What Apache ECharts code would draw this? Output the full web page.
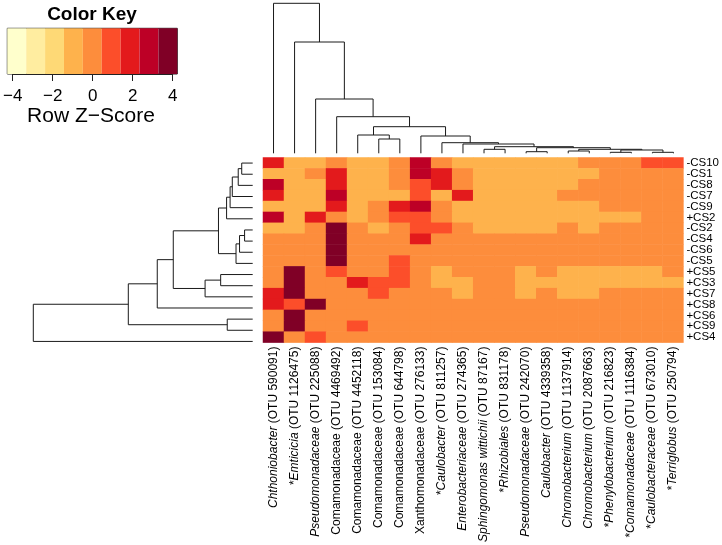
<!DOCTYPE html>
<html><head><meta charset="utf-8">
<script src="https://cdn.jsdelivr.net/npm/echarts@6/dist/echarts.min.js"></script>
<style>html,body{margin:0;padding:0;background:#fff}#c{width:722px;height:545px}</style>
</head><body><div id="c"></div>
<script>
// ---------------- data ----------------
const rowLabels = ['-CS10','-CS1','-CS8','-CS7','-CS9','+CS2','-CS2','-CS4','-CS6','-CS5','+CS5','+CS3','+CS7','+CS8','+CS6','+CS9','+CS4'];
const colStar   = [0,1,0,0,0,0,0,0,1,0,0,1,0,0,0,0,1,1,1,1];
const colTaxon  = ['Chthoniobacter','Emticicia','Pseudomonadaceae','Comamonadaceae','Comamonadaceae','Comamonadaceae','Comamonadaceae','Xanthomonadaceae','Caulobacter','Enterobacteriaceae','Sphingomonas wittichii','Rhizobiales','Pseudomonadaceae','Caulobacter','Chromobacterium','Chromobacterium','Phenylobacterium','Comamonadaceae','Caulobacteraceae','Terriglobus'];
const colItalic = [1,1,1,0,0,0,0,0,1,1,1,1,1,1,1,1,1,1,1,1];
const colOtu    = ['590091','1126475','225088','4469492','4452118','153084','644798','276133','811257','274365','87167','831178','242070','4339358','1137914','2087663','216823','1116384','673010','250794'];

// Row Z-scores (rows top to bottom, columns left to right)
const zRows = [
  [1.9,-0.9,-0.9,0,-0.9,-0.9,0,2.8,0,-0.9,-0.9,-0.9,-0.9,-0.9,-0.9,0,0,0,1.0,1.0],
  [-0.9,-0.9,0,1.9,-0.9,-0.9,0,2.8,1.9,0,-0.9,-0.9,-0.9,-0.9,-0.9,-0.9,0,0,0,0],
  [2.8,-0.9,-0.9,1.9,-0.9,-0.9,0,1.0,1.9,0,-0.9,-0.9,-0.9,-0.9,-0.9,0,0,0,0,0],
  [1.9,-0.9,-0.9,2.8,-0.9,-0.9,-0.9,1.0,-0.9,1.9,-0.9,-0.9,-0.9,-0.9,0,0,0,0,0,0],
  [-0.9,-0.9,-0.9,1.9,-0.9,0,1.9,2.8,0,-0.9,-0.9,-0.9,-0.9,-0.9,-0.9,-0.9,0,0,0,0],
  [2.8,-0.9,1.9,0,-0.9,0,1.0,1.0,0,-0.9,-0.9,-0.9,-0.9,-0.9,-0.9,-0.9,-0.9,-0.9,0,0],
  [-0.9,-0.9,0,3.8,0,-0.9,0,1.0,1.0,0,-0.9,-0.9,-0.9,-0.9,0,-0.9,0,0,0,0],
  [0,0,0,3.8,0,0,0,1.9,0,0,0,0,0,0,0,0,0,0,0,0],
  [0,0,0,3.8,0,0,0,0,0,0,0,0,0,0,0,0,0,0,0,0],
  [0,0,0,3.8,0,0,1.0,0,0,0,0,0,0,0,0,0,0,0,0,0],
  [0,3.8,0,1.0,0,0,1.0,0,-0.9,0,0,0,-0.9,0,-0.9,-0.9,-0.9,-0.9,-0.9,0],
  [0,3.8,0,0,1.9,1.0,1.0,0,-0.9,-0.9,0,0,-0.9,-0.9,-0.9,-0.9,-0.9,-0.9,-0.9,-0.9],
  [1.9,3.8,0,0,0,1.0,0,0,0,-0.9,0,0,-0.9,0,-0.9,-0.9,0,0,0,0],
  [1.9,1.0,3.8,0,0,0,0,0,0,0,0,0,0,0,0,0,0,0,0,0],
  [0,3.8,0,0,0,0,0,0,0,0,0,0,0,0,0,0,0,0,0,0],
  [0,3.8,0,0,1.0,0,0,0,0,0,0,0,0,0,0,0,0,0,0,0],
  [3.8,0,1.0,0,0,0,0,0,0,0,0,0,0,0,0,0,0,0,0,0]
];

// Colour key
const keyColors = ['#FFFFCC','#FFEDA0','#FED976','#FEB24C','#FD8D3C','#FC4E2A','#E31A1C','#BD0026','#800026'];
const keyMin = -4.23, keyMax = 4.23;
const keyTicks = [-4, -2, 0, 2, 4];

// Dendrograms as hclust-style merges: [a, b, height]; negative = leaf (display order), positive = earlier merge
const colMerge = [
  [-6,-7,14.3],[-5,1,18.3],[-17,-18,1.0],[-19,-20,1.0],[3,4,3.3],[-15,-16,2.3],[6,5,4.0],
  [-13,-14,1.6],[8,7,5.6],[-11,-12,4.0],[10,9,6.6],[-10,11,9.3],[-9,12,10.6],[-8,13,17.3],
  [2,14,26.6],[-4,15,36.6],[-3,16,54.3],[-2,17,111.3],[-1,18,150]
];
const rowMerge = [
  [-1,-2,0.50],[1,-3,0.66],[2,-4,0.93],[3,-5,1.03],[4,-6,1.19],[-7,-8,0.37],[6,-9,0.60],
  [7,-10,0.76],[5,8,1.56],[-11,-12,1.46],[10,-13,2.17],[9,11,3.62],[12,-14,4.35],
  [-15,-16,1.16],[13,14,5.67],[15,-17,10]
];

// ---------------- build ----------------
const FONT = '"Liberation Sans", Arial, Helvetica, sans-serif';
function dendroSegments(merges) {
  const pos = [], hgt = [];
  const get = (id) => id < 0 ? [(-id) - 0.5, 0] : [pos[id - 1], hgt[id - 1]];
  const segs = [];
  merges.forEach((m, k) => {
    const a = get(m[0]), b = get(m[1]);
    pos[k] = (a[0] + b[0]) / 2; hgt[k] = m[2];
    segs.push([a[0], a[1], b[0], b[1], m[2]]);
  });
  return segs;
}
function dendroRender(swap) {
  return function (params, api) {
    const xa = api.value(0), ha = api.value(1), xb = api.value(2), hb = api.value(3), h = api.value(4);
    const P = (p, q) => swap ? api.coord([q, p]) : api.coord([p, q]);
    return { type: 'polyline', shape: { points: [P(xa, ha), P(xa, h), P(xb, h), P(xb, hb)] },
      style: { stroke: '#1a1a1a', lineWidth: 1, fill: null } };
  };
}
const heatData = [];
zRows.forEach((r, ri) => r.forEach((v, ci) => heatData.push([ci, ri, v])));
const step = (keyMax - keyMin) / keyColors.length;
const pieces = keyColors.map((c, k) => ({ gte: keyMin + k * step, lt: keyMin + (k + 1) * step + (k === keyColors.length - 1 ? 1 : 0), color: c }));
const keyData = keyColors.map((c, k) => [keyMin + k * step, keyMin + (k + 1) * step, k]);

const HM = { left: 263, top: 157.5, width: 421, height: 189.5 };
const hidden = { show: false };
const LBL = 12;
const option = {
  animation: false,
  backgroundColor: '#fff',
  grid: [
    { left: HM.left, top: HM.top, width: HM.width, height: HM.height },         // 0 heatmap
    { left: HM.left, top: 3.3, width: HM.width, height: 150 },                  // 1 column dendrogram
    { left: 33.3, top: HM.top, width: 219.4, height: HM.height },               // 2 row dendrogram
    { left: 7.3, top: 28.3, width: 170, height: 45.7, show: true, borderColor: '#222', borderWidth: 1 }, // 3 key
    { left: 7.3 + (keyTicks[0] - keyMin) / (keyMax - keyMin) * 170, top: 28.3,
      width: (keyTicks[keyTicks.length - 1] - keyTicks[0]) / (keyMax - keyMin) * 170, height: 45.7 } // 4 key axis
  ],
  xAxis: [
    { gridIndex: 0, type: 'category', data: colTaxon, position: 'bottom',
      axisLine: hidden, axisTick: hidden, splitLine: hidden,
      axisLabel: { interval: 0, rotate: 90, margin: 4, color: '#000',
        formatter: (v, i) => (colStar[i] ? '{n|*}' : '') + (colItalic[i] ? '{i|' + colTaxon[i] + '}' : '{n|' + colTaxon[i] + '}') + '{n| (OTU ' + colOtu[i] + ')}',
        rich: { i: { fontStyle: 'italic', fontSize: LBL, fontFamily: FONT, color: '#000' },
                n: { fontSize: LBL, fontFamily: FONT, color: '#000' } } } },
    { gridIndex: 1, type: 'value', min: 0, max: colTaxon.length, show: false },
    { gridIndex: 2, type: 'value', min: 0, max: 10, inverse: true, show: false },
    { gridIndex: 3, type: 'value', min: keyMin, max: keyMax, show: false },
    { gridIndex: 4, type: 'value', min: keyTicks[0], max: keyTicks[keyTicks.length - 1], interval: 2,
      position: 'bottom', splitLine: hidden,
      axisLine: { show: true, lineStyle: { color: '#222', width: 1 } },
      axisTick: { show: true, length: 7, lineStyle: { color: '#222' } },
      axisLabel: { margin: 14, fontSize: 17, fontFamily: FONT, color: '#000',
        formatter: (v) => String(v).replace('-', '\u2212') } }
  ],
  yAxis: [
    { gridIndex: 0, type: 'category', data: rowLabels, inverse: true, position: 'right',
      axisLine: hidden, axisTick: hidden, splitLine: hidden,
      axisLabel: { interval: 0, margin: 3, fontSize: 11.5, fontFamily: FONT, color: '#000' } },
    { gridIndex: 1, type: 'value', min: 0, max: 150, show: false },
    { gridIndex: 2, type: 'value', min: 0, max: rowLabels.length, inverse: true, show: false },
    { gridIndex: 3, type: 'value', min: 0, max: 1, show: false },
    { gridIndex: 4, type: 'value', min: 0, max: 1, show: false }
  ],
  visualMap: { type: 'piecewise', show: false, seriesIndex: 0, dimension: 2, pieces: pieces },
  series: [
    { type: 'heatmap', xAxisIndex: 0, yAxisIndex: 0, data: heatData, itemStyle: { borderWidth: 0 } },
    { type: 'custom', xAxisIndex: 1, yAxisIndex: 1, data: dendroSegments(colMerge), renderItem: dendroRender(false), silent: true },
    { type: 'custom', xAxisIndex: 2, yAxisIndex: 2, data: dendroSegments(rowMerge), renderItem: dendroRender(true), silent: true },
    { type: 'custom', xAxisIndex: 3, yAxisIndex: 3, data: keyData, silent: true,
      renderItem: (p, api) => {
        const a = api.coord([api.value(0), 1]), b = api.coord([api.value(1), 0]);
        return { type: 'rect', shape: { x: a[0], y: a[1], width: b[0] - a[0], height: b[1] - a[1] },
          style: { fill: keyColors[api.value(2)] } };
      } }
  ],
  graphic: [
    { type: 'text', x: 92, y: 15, style: { text: 'Color Key', font: 'bold 19px ' + FONT, fill: '#000', align: 'center', verticalAlign: 'middle' } },
    { type: 'text', x: 91, y: 116, style: { text: 'Row Z\u2212Score', font: '21px ' + FONT, fill: '#000', align: 'center', verticalAlign: 'middle' } }
  ]
};
const chart = echarts.init(document.getElementById('c'), null, { renderer: 'canvas' });
chart.setOption(option);
</script></body></html>
